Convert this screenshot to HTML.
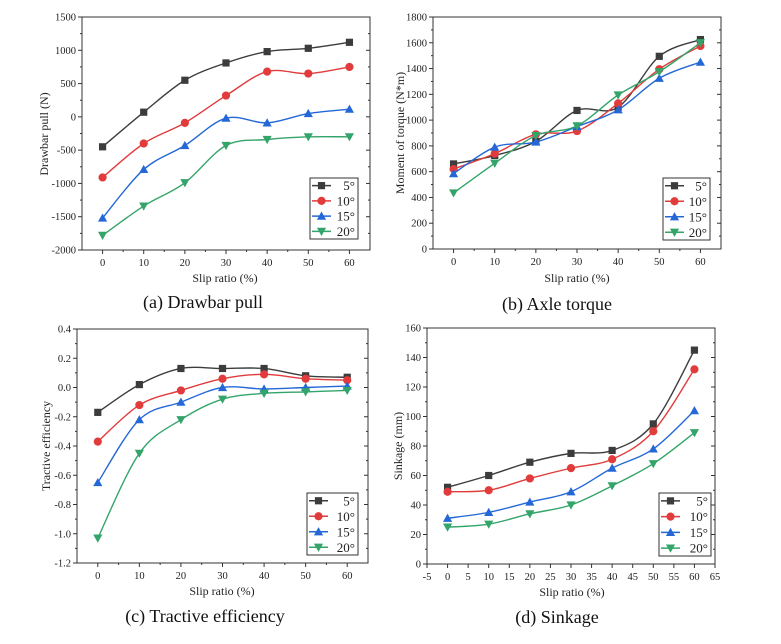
<!DOCTYPE html>
<html><head><meta charset="utf-8"><style>
html,body{margin:0;padding:0;background:#fff;}
svg{display:block;font-family:"Liberation Serif",serif;}
</style></head><body>
<svg id="fig" width="781" height="644" viewBox="0 0 781 644" xmlns="http://www.w3.org/2000/svg"></svg>
<script>
const xCats = [0,10,20,30,40,50,60];
const seriesNames = ["5°","10°","15°","20°"];
const aS5 = [-450,70,550,810,980,1030,1120];
const aS10 = [-910,-400,-90,320,680,650,750];
const aS15 = [-1520,-790,-430,-20,-90,50,115];
const aS20 = [-1780,-1340,-990,-430,-340,-300,-300];
const bS5 = [660,725,835,1075,1100,1495,1625];
const bS10 = [620,740,890,915,1130,1395,1575];
const bS15 = [585,790,830,950,1080,1325,1450];
const bS20 = [435,665,880,955,1195,1375,1600];
const cS5 = [-0.17,0.02,0.13,0.13,0.13,0.08,0.07];
const cS10 = [-0.37,-0.12,-0.02,0.06,0.09,0.06,0.05];
const cS15 = [-0.65,-0.22,-0.10,0.00,-0.01,0.00,0.01];
const cS20 = [-1.03,-0.45,-0.22,-0.08,-0.04,-0.03,-0.02];
const dS5 = [52,60,69,75,77,95,145];
const dS10 = [49,50,58,65,71,90,132];
const dS15 = [31,35,42,49,65,78,104];
const dS20 = [25,27,34,40,53,68,89];
const aYTicks = [-2000,-1500,-1000,-500,0,500,1000,1500];
const bYTicks = [0,200,400,600,800,1000,1200,1400,1600,1800];
const cYTicks = [-1.2,-1.0,-0.8,-0.6,-0.4,-0.2,0.0,0.2,0.4];
const dYTicks = [0,20,40,60,80,100,120,140,160];
const xTicksA = [0,10,20,30,40,50,60];
const xTicksD = [-5,0,5,10,15,20,25,30,35,40,45,50,55,60,65];

const colors = ["#3c3c3c","#e23b3b","#2468d8","#34a56a"];
const markers = ["square","circle","tri","tridown"];
const NS = "http://www.w3.org/2000/svg";
const svg = document.getElementById("fig");
function mk(tag, attrs, parent){const e=document.createElementNS(NS,tag);for(const k in attrs)e.setAttribute(k,attrs[k]);(parent||svg).appendChild(e);return e;}

function spline(pts){
  let d="M"+pts[0][0]+","+pts[0][1];
  for(let i=0;i<pts.length-1;i++){
    const p0=pts[Math.max(0,i-1)],p1=pts[i],p2=pts[i+1],p3=pts[Math.min(pts.length-1,i+2)];
    const c1=[p1[0]+(p2[0]-p0[0])/6,p1[1]+(p2[1]-p0[1])/6];
    const c2=[p2[0]-(p3[0]-p1[0])/6,p2[1]-(p3[1]-p1[1])/6];
    d+=" C"+c1[0]+","+c1[1]+" "+c2[0]+","+c2[1]+" "+p2[0]+","+p2[1];
  }
  return d;
}
function marker(g,type,x,y,c){
  const s=3.6;
  if(type==="square") return mk("rect",{x:x-s,y:y-s,width:2*s,height:2*s,fill:c},g);
  if(type==="circle") return mk("circle",{cx:x,cy:y,r:s+0.5,fill:c},g);
  if(type==="tri") return mk("polygon",{points:`${x},${y-s-1} ${x-s-1},${y+s} ${x+s+1},${y+s}`,fill:c},g);
  return mk("polygon",{points:`${x},${y+s+1} ${x-s-1},${y-s} ${x+s+1},${y-s}`,fill:c},g);
}

function panel(cfg){
  const g=mk("g",{});
  
  
  const {L,R,T,B,ymin,ymax,yTicks,xTicks,data}=cfg;
  const xs=v=>L+(v-(-5))/70*(R-L);
  const ys=v=>B-(v-ymin)/(ymax-ymin)*(B-T);
  const box=mk("rect",{x:L,y:T,width:R-L,height:B-T,fill:"none",stroke:"#333","stroke-width":1},g);
  
  
  const step=yTicks[1]-yTicks[0];
  yTicks.forEach((v,i)=>{
    const y=ys(v);
    mk("line",{x1:L-4,x2:L,y1:y,y2:y,stroke:"#333"},g);
    mk("line",{x1:R-4,x2:R,y1:y,y2:y,stroke:"#333"},g);
    if(i<yTicks.length-1){const ym=ys(v+step/2);mk("line",{x1:L-2,x2:L,y1:ym,y2:ym,stroke:"#333"},g);mk("line",{x1:R-2,x2:R,y1:ym,y2:ym,stroke:"#333"},g);}
    const t=mk("text",{x:L-6,y:y+3.5,"text-anchor":"end","font-size":10.5,fill:"#222"},g);
    t.textContent=cfg.fmt?cfg.fmt(v):v;
    
    
  });
  xTicks.forEach((v,i)=>{
    const x=xs(v);
    mk("line",{x1:x,x2:x,y1:B,y2:B+4,stroke:"#333"},g);
    if(cfg.minorX && i<xTicks.length-1){const xm=xs(v+(xTicks[1]-xTicks[0])/2);mk("line",{x1:xm,x2:xm,y1:B,y2:B+2,stroke:"#333"},g);}
    const t=mk("text",{x:x,y:B+16,"text-anchor":"middle","font-size":10.5,fill:"#222"},g);
    t.textContent=v;
    
    
  });
  data.forEach((arr,si)=>{
    const sg=mk("g",{},g);
    
    
    const pts=arr.map((v,i)=>[xs(xCats[i]),ys(v)]);
    mk("path",{d:spline(pts),fill:"none",stroke:colors[si],"stroke-width":1.4},sg);
    pts.forEach(p=>{const m=marker(sg,markers[si],p[0],p[1],colors[si]);
      
      });
  });
  const lg=mk("g",{},g);
  
  
  const [lx1,ly1,lx2,ly2]=cfg.leg;
  mk("rect",{x:lx1,y:ly1,width:lx2-lx1,height:ly2-ly1,fill:"#fff",stroke:"#333"},lg);
  const rh=(ly2-ly1)/4;
  seriesNames.forEach((n,i)=>{
    const y=ly1+rh*(i+0.5);
    const e=mk("g",{},lg);
    
    
    mk("line",{x1:lx1+2,x2:lx1+21,y1:y,y2:y,stroke:colors[i],"stroke-width":1.4},e);
    marker(e,markers[i],lx1+11.5,y,colors[i]);
    const t=mk("text",{x:lx2-3,y:y+4.5,"text-anchor":"end","font-size":13,fill:"#222"},e);
    t.textContent=n;
  });
  const xl=mk("text",{x:cfg.xlab[0],y:cfg.xlab[1],"text-anchor":"middle","font-size":12,fill:"#222"},g);
  xl.textContent="Slip ratio (%)";
  
  
  const yl=mk("text",{x:0,y:0,"text-anchor":"middle","font-size":12,fill:"#222",transform:`translate(${cfg.ylab[0]},${cfg.ylab[1]}) rotate(-90)`},g);
  yl.textContent=cfg.ytitle;
  
  
  const cp=mk("text",{x:cfg.cap[0],y:cfg.cap[1],"text-anchor":"middle","font-size":18,fill:"#111"},g);
  cp.textContent=cfg.caption;
  
  
}

panel({name:"drawbar-pull-chart",L:82,R:370,T:17,B:250,ymin:-2000,ymax:1500,yTicks:aYTicks,xTicks:xTicksA,minorX:true,
  data:[aS5,aS10,aS15,aS20],leg:[310,178,358,239],xlab:[225,282],ylab:[48,134],ytitle:"Drawbar pull (N)",cap:[203,308],caption:"(a) Drawbar pull"});
panel({name:"axle-torque-chart",L:433,R:721,T:17,B:249,ymin:0,ymax:1800,yTicks:bYTicks,xTicks:xTicksA,minorX:true,
  data:[bS5,bS10,bS15,bS20],leg:[663,178,710,240],xlab:[577,282],ylab:[404,133],ytitle:"Moment of torque (N*m)",cap:[557,310],caption:"(b) Axle torque"});
panel({name:"tractive-efficiency-chart",L:77,R:368,T:329,B:563,ymin:-1.2,ymax:0.4,yTicks:cYTicks,xTicks:xTicksA,minorX:true,fmt:v=>v.toFixed(1),
  data:[cS5,cS10,cS15,cS20],leg:[307,493,358,555],xlab:[222,595],ylab:[50,446],ytitle:"Tractive efficiency",cap:[205,622],caption:"(c) Tractive efficiency"});
panel({name:"sinkage-chart",L:427,R:715,T:328,B:564,ymin:0,ymax:160,yTicks:dYTicks,xTicks:xTicksD,minorX:false,
  data:[dS5,dS10,dS15,dS20],leg:[659,493,711,556],xlab:[572,596],ylab:[402,446],ytitle:"Sinkage (mm)",cap:[557,623],caption:"(d) Sinkage"});
</script>
</body></html>
